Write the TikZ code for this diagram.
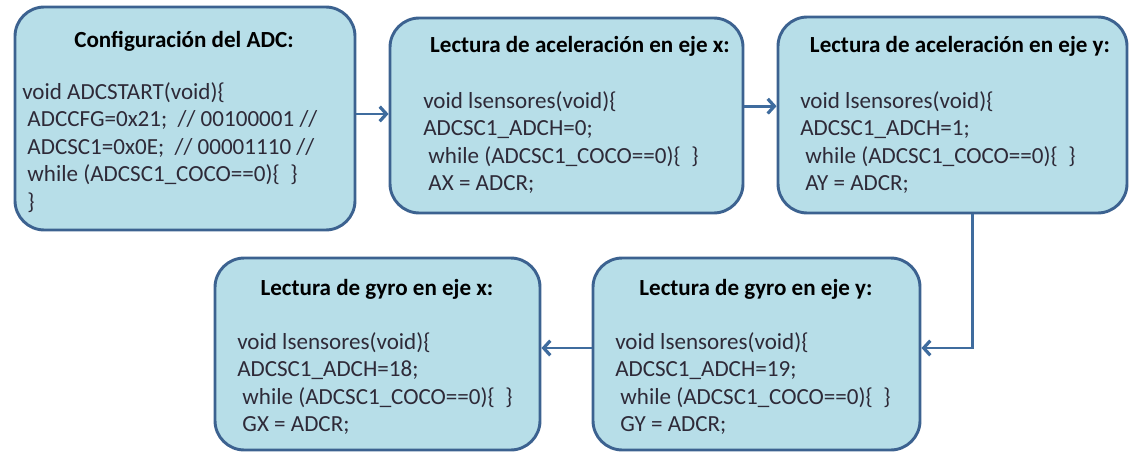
\documentclass[tikz,border=0pt]{standalone}
\usepackage{fontspec}
\setmainfont{Carlito}
\usepackage{tikz}
\usetikzlibrary{arrows.meta,positioning,calc}
\definecolor{boxfill}{HTML}{B7DEE8}
\definecolor{boxline}{HTML}{3C6290}
\definecolor{connline}{HTML}{3F6C9E}
\definecolor{codetext}{HTML}{2E2A38}
\tikzset{
    blk/.style={draw=boxline, line width=2.2pt, fill=boxfill, rounded corners=22pt, inner sep=0pt}, % the rounded boxes
    ttl/.style={anchor=base, inner sep=0pt, font=\fontsize{17.3}{20.5}\selectfont\bfseries, text=black},
    code/.style={anchor=base west, inner sep=0pt, align=left, font=\fontsize{17.3}{20.6}\selectfont, text=codetext}, % placed at the baseline of the last line
    conn/.style={draw=connline, line width=2.2pt, -{Straight Barb[length=5pt,width=11pt,line width=2.4pt]}},
}

\begin{document}
\begin{tikzpicture}[x=0.75pt,y=0.75pt,yscale=-1,xscale=1]
\useasboundingbox (0,0) rectangle (1130,453);
%Rounded Rect
\node (cfg)  at (185,118.5) [blk, minimum width=255pt,   minimum height=167.25pt] {};
\node (accx) at (566.5,115.5) [blk, minimum width=264.75pt, minimum height=146.25pt] {};
\node (accy) at (952.5,115) [blk, minimum width=261.75pt, minimum height=147pt] {};
\node (gyrx) at (377.5,354) [blk, minimum width=243.75pt, minimum height=144pt] {};
\node (gyry) at (756.5,354) [blk, minimum width=245.25pt, minimum height=144pt] {};
%Titles
\node (cfg-t)  at (184,48)  [ttl] {Configuración del ADC:};
\node (accx-t) at (580,53)  [ttl] {Lectura de aceleración en eje x:};
\node (accy-t) at (960,53)  [ttl] {Lectura de aceleración en eje y:};
\node (gyrx-t) at (377,295) [ttl] {Lectura de gyro en eje x:};
\node (gyry-t) at (756,295) [ttl] {Lectura de gyro en eje y:};
%Code lines
\node (cfg-c) at (22,209) [code] {void ADCSTART(void)\{\\
\ ADCCFG=0x21; \ // 00100001 //\\
\ ADCSC1=0x0E; \ // 00001110 //\\
\ while (ADCSC1\_COCO==0)\{ \ \}\\
\ \}};
\node (accx-c) at (423,190.5) [code] {void lsensores(void)\{\\
ADCSC1\_ADCH=0;\\
\ while (ADCSC1\_COCO==0)\{ \ \}\\
\ AX = ADCR;};
\node (accy-c) at (800,190.5) [code] {void lsensores(void)\{\\
ADCSC1\_ADCH=1;\\
\ while (ADCSC1\_COCO==0)\{ \ \}\\
\ AY = ADCR;};
\node (gyrx-c) at (237,431.5) [code] {void lsensores(void)\{\\
ADCSC1\_ADCH=18;\\
\ while (ADCSC1\_COCO==0)\{ \ \}\\
\ GX = ADCR;};
\node (gyry-c) at (615,431.5) [code] {void lsensores(void)\{\\
ADCSC1\_ADCH=19;\\
\ while (ADCSC1\_COCO==0)\{ \ \}\\
\ GY = ADCR;};
%Straight Lines
\draw [conn] ([yshift=-3.4pt]cfg.east) -- ([yshift=-3.4pt]cfg.east -| accx.west);
\draw [conn] ([yshift=-7pt]accx.east) -- ([yshift=-7pt]accx.east -| accy.west);
\draw [conn] ([xshift=15pt]accy.south) |- ([yshift=-4.5pt]gyry.east);
\draw [conn] ([yshift=-4.5pt]gyry.west) -- ([yshift=-4.5pt]gyrx.east);
\end{tikzpicture}
\end{document}
